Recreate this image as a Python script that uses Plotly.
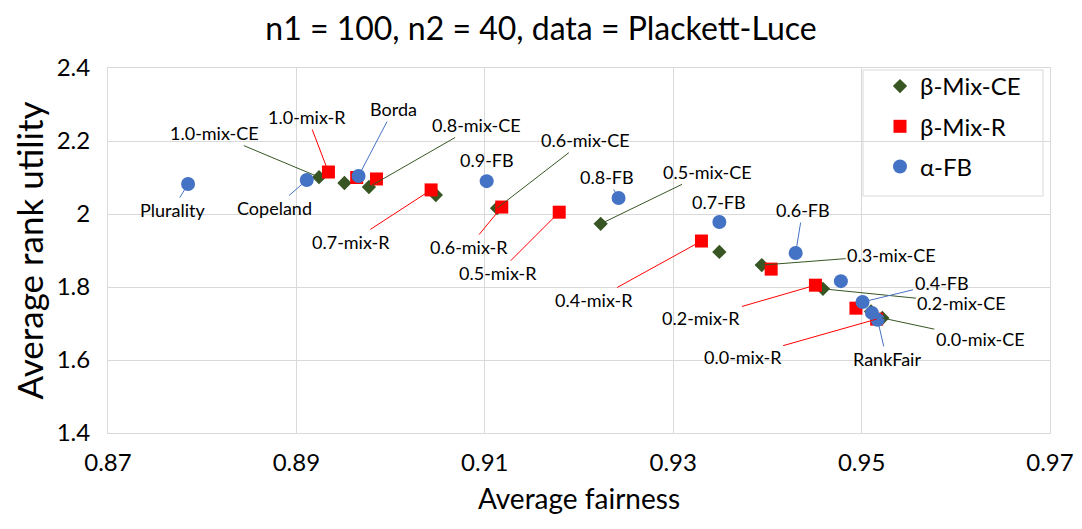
import plotly.graph_objects as go

# ---------------- data ----------------
ce_x = [0.8924, 0.8951, 0.8977, 0.9048, 0.9113, 0.9223, 0.9349, 0.9394, 0.9459, 0.9510, 0.9522]
ce_y = [2.101, 2.085, 2.074, 2.052, 2.016, 1.973, 1.896, 1.860, 1.795, 1.733, 1.715]
ce_labels = ["1.0-mix-CE", "", "0.8-mix-CE", "", "0.6-mix-CE", "0.5-mix-CE", "",
             "0.3-mix-CE", "0.2-mix-CE", "", "0.0-mix-CE"]

r_x = [0.8934, 0.8964, 0.8985, 0.9043, 0.9118, 0.9179, 0.9330, 0.9404, 0.9451, 0.9494, 0.9516]
r_y = [2.115, 2.100, 2.096, 2.066, 2.019, 2.005, 1.926, 1.849, 1.805, 1.742, 1.712]
r_labels = ["1.0-mix-R", "", "", "0.7-mix-R", "0.6-mix-R", "0.5-mix-R", "0.4-mix-R",
            "", "0.2-mix-R", "", "0.0-mix-R"]

fb_x = [0.8785, 0.8911, 0.8966, 0.9102, 0.9242, 0.9349, 0.9430, 0.9478, 0.9501, 0.9511, 0.9517]
fb_y = [2.082, 2.093, 2.104, 2.090, 2.044, 1.978, 1.893, 1.816, 1.759, 1.729, 1.710]
fb_labels = ["Plurality", "Copeland", "Borda", "0.9-FB", "0.8-FB", "0.7-FB", "0.6-FB",
             "", "0.4-FB", "", "RankFair"]

x_ticks = [0.87, 0.89, 0.91, 0.93, 0.95, 0.97]
y_ticks = [1.4, 1.6, 1.8, 2.0, 2.2, 2.4]

# ---------------- label placement (pixel offsets, leader line flag) ----------------
ce_off = [(-105, -44, 1), None, (108, -62, 1), None, (88, -68, 1), (107, -52, 1), None,
          (130, -10, 1), (139, 14, 1), None, (98, 21, 1)]
r_off = [(-21, -55, 1), None, None, (-80, 52, 1), (-33, 40, 1), (-61, 61, 1), (-107, 59, 1),
         None, (-114, 33, 1), None, (-134, 38, 1)]
fb_off = [(-16, 26, 1), (-32, 28, 1), (35, -67, 1), (0, -21, 0), (-12, -21, 1), (0, -20, 0),
          (7, -43, 1), None, (79, -19, 1), None, (9, 39, 1)]

CE_COL = "#375623"
R_COL = "#FF0000"
FB_COL = "#4472C4"
FONT = "Lato"

fig = go.Figure()
fig.add_trace(go.Scatter(x=ce_x, y=ce_y, mode="markers", name="β-Mix-CE",
                         legendgroup="a",
                         marker=dict(symbol="diamond", size=11, color=CE_COL)))
fig.add_trace(go.Scatter(x=r_x, y=r_y, mode="markers", name="β-Mix-R",
                         legendgroup="b",
                         marker=dict(symbol="square", size=13, color=R_COL)))
fig.add_trace(go.Scatter(x=fb_x, y=fb_y, mode="markers", name="α-FB",
                         legendgroup="c",
                         marker=dict(symbol="circle", size=14, color=FB_COL)))

annotations = []
for xs, ys, labs, offs, col in [(ce_x, ce_y, ce_labels, ce_off, CE_COL),
                                (r_x, r_y, r_labels, r_off, R_COL),
                                (fb_x, fb_y, fb_labels, fb_off, FB_COL)]:
    for xv, yv, lab, off in zip(xs, ys, labs, offs):
        if not lab or off is None:
            continue
        ax, ay, line = off
        annotations.append(dict(
            x=xv, y=yv, xref="x", yref="y", text=lab,
            showarrow=True, ax=ax, ay=ay, arrowhead=0, arrowwidth=1,
            arrowcolor=col if line else "rgba(0,0,0,0)", standoff=0,
            font=dict(family=FONT, size=18, color="#000000"),
        ))

# page body adds an 8px offset; target plot area in screen pixels
PAGE = 8
W, H = 1082 - PAGE, 529 - PAGE
pl_l, pl_r, pl_t, pl_b = 108, 1050, 68, 433


def px2paper(px, py):
    return (px - pl_l) / (pl_r - pl_l), (pl_b - py) / (pl_b - pl_t)


lx0, ly0 = px2paper(863, 196)
lx1, ly1 = px2paper(1043, 70)
lgx, lgy = px2paper(880, 64)

fig.update_layout(
    width=W, height=H,
    margin=dict(l=pl_l - PAGE, r=W - (pl_r - PAGE), t=pl_t - PAGE,
                b=H - (pl_b - PAGE), autoexpand=False),
    paper_bgcolor="white", plot_bgcolor="white",
    font=dict(family=FONT, color="#000000"),
    title=dict(text="n1 = 100, n2 = 40, data = Plackett-Luce",
               x=(541 - PAGE) / W, xanchor="center", y=1 - (29 - PAGE) / H, yanchor="middle",
               font=dict(family=FONT, size=32, color="#000000")),
    xaxis=dict(range=[0.87, 0.97], tickvals=x_ticks,
               ticktext=[f"{v:.2f}" for v in x_ticks],
               showgrid=True, gridcolor="#D9D9D9", gridwidth=1,
               showline=True, linecolor="#D9D9D9", mirror=True,
               zeroline=False, ticks="", automargin=False,
               ticklabelstandoff=8,
               tickfont=dict(family=FONT, size=24, color="#000000"),
               title=dict(text="Average fairness", standoff=14,
                          font=dict(family=FONT, size=28, color="#000000"))),
    yaxis=dict(range=[1.4, 2.4], tickvals=y_ticks,
               ticktext=[f"{v:g}" for v in y_ticks],
               showgrid=True, gridcolor="#D9D9D9", gridwidth=1,
               showline=True, linecolor="#D9D9D9", mirror=True,
               zeroline=False, ticks="", automargin=False,
               ticklabelstandoff=12,
               tickfont=dict(family=FONT, size=24, color="#000000"),
               title=dict(text="Average rank utility", standoff=8,
                          font=dict(family=FONT, size=35, color="#000000"))),
    showlegend=True,
    legend=dict(x=lgx, y=lgy, xanchor="left", yanchor="top",
                bgcolor="rgba(0,0,0,0)", borderwidth=0,
                traceorder="grouped", tracegroupgap=6,
                font=dict(family=FONT, size=24, color="#000000")),
    shapes=[dict(type="rect", xref="paper", yref="paper",
                 x0=lx0, x1=lx1, y0=ly0, y1=ly1,
                 line=dict(color="#D9D9D9", width=1),
                 fillcolor="white", layer="below")],
    annotations=annotations,
)

fig.write_html("out.html")
